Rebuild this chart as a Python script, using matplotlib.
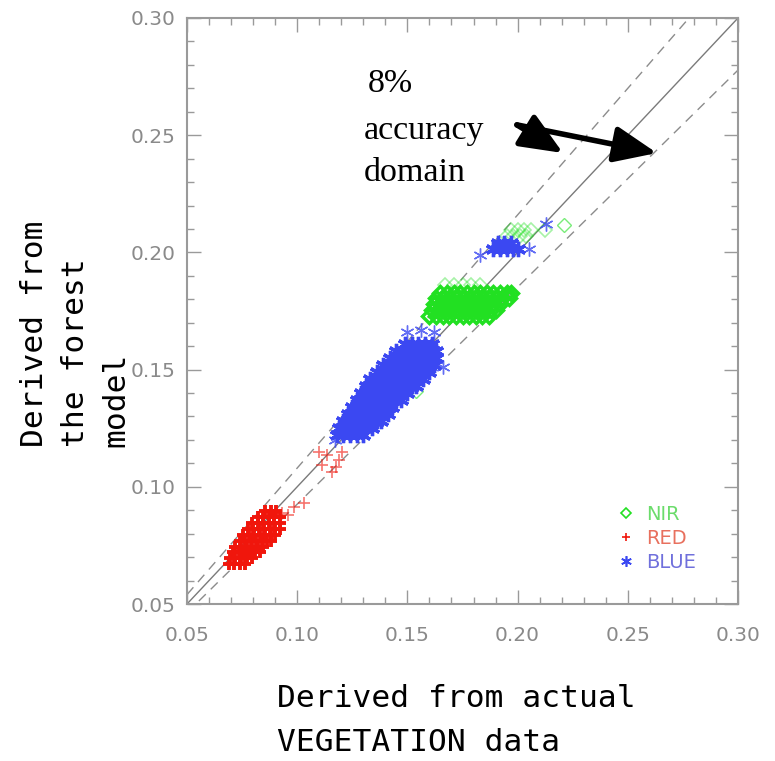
import matplotlib

matplotlib.use("Agg")

import matplotlib.pyplot as plt
import numpy as np
from matplotlib.ticker import FormatStrFormatter, MultipleLocator


W_PX, H_PX = 775, 761
AX_LEFT_PX, AX_RIGHT_PX = 187, 738
AX_TOP_PX, AX_BOTTOM_PX = 18, 604

AXIS_RANGE = (0.05, 0.30)
ACCURACY = 0.08

NIR_COLOR = "#22e022"
RED_COLOR = "#f0160c"
BLUE_COLOR = "#3b48f2"
FRAME_GREY = "#9a9a9a"

# NIR (open diamonds) - dense block, one list of x per row
NIR_ROW_Y = [0.173, 0.1755, 0.178, 0.1805, 0.1825]
NIR_ROW_X = [
    [0.160, 0.163, 0.166, 0.169, 0.172, 0.175, 0.178, 0.181, 0.184, 0.187],
    [0.161, 0.164, 0.167, 0.170, 0.173, 0.176, 0.179, 0.182, 0.185, 0.188, 0.190],
    [0.162, 0.165, 0.168, 0.171, 0.174, 0.177, 0.180, 0.183, 0.186, 0.189, 0.192],
    [0.163, 0.166, 0.169, 0.172, 0.175, 0.178, 0.181, 0.184, 0.187, 0.190, 0.193, 0.196],
    [0.165, 0.168, 0.171, 0.174, 0.177, 0.180, 0.183, 0.186, 0.189, 0.192, 0.195, 0.197],
]
# sparse / faint NIR points
NIR_FAINT_X = [0.167, 0.171, 0.175, 0.179, 0.183,
               0.195, 0.198, 0.201, 0.204, 0.197, 0.200, 0.203, 0.206, 0.2126]
NIR_FAINT_Y = [0.186, 0.186, 0.186, 0.186, 0.186,
               0.207, 0.207, 0.207, 0.207, 0.2095, 0.2095, 0.2095, 0.2095, 0.2096]
NIR_SINGLE_X = [0.221, 0.154]
NIR_SINGLE_Y = [0.2117, 0.141]

# RED (plus signs)
RED_ROW_Y = [0.067, 0.0695, 0.072, 0.0745, 0.077, 0.0795, 0.082, 0.0845, 0.087, 0.0895]
RED_ROW_X = [
    [0.069, 0.0715, 0.074, 0.0765],
    [0.0695, 0.072, 0.0745, 0.077, 0.0795],
    [0.071, 0.0735, 0.076, 0.0785, 0.081, 0.083],
    [0.072, 0.0745, 0.077, 0.0795, 0.082, 0.0845],
    [0.074, 0.0765, 0.079, 0.0815, 0.084, 0.0865, 0.088],
    [0.0755, 0.078, 0.0805, 0.083, 0.0855, 0.088, 0.090],
    [0.0775, 0.080, 0.0825, 0.085, 0.0875, 0.090, 0.092],
    [0.0795, 0.082, 0.0845, 0.087, 0.0895, 0.092],
    [0.082, 0.0845, 0.087, 0.0895, 0.092],
    [0.0855, 0.088, 0.0905],
]
RED_SPARSE_X = [0.093, 0.0985, 0.103, 0.096, 0.1098, 0.1134, 0.1202, 0.1111, 0.1175, 0.1188, 0.1157]
RED_SPARSE_Y = [0.089, 0.0914, 0.0931, 0.088, 0.1148, 0.1136, 0.1148, 0.1093, 0.1084, 0.1114, 0.1063]

# BLUE (asterisks)
BLUE_ROW_Y = [0.122, 0.125, 0.128, 0.131, 0.134, 0.137, 0.140, 0.143, 0.146, 0.149,
              0.152, 0.155, 0.158, 0.161, 0.2015, 0.204]
BLUE_ROW_X = [
    [0.118, 0.121, 0.124, 0.127, 0.130],
    [0.119, 0.122, 0.125, 0.128, 0.131, 0.134],
    [0.121, 0.124, 0.127, 0.130, 0.133, 0.136, 0.138],
    [0.123, 0.126, 0.129, 0.132, 0.135, 0.138, 0.141],
    [0.125, 0.128, 0.131, 0.134, 0.137, 0.140, 0.143],
    [0.127, 0.130, 0.133, 0.136, 0.139, 0.142, 0.145, 0.147],
    [0.129, 0.132, 0.135, 0.138, 0.141, 0.144, 0.147, 0.150],
    [0.131, 0.134, 0.137, 0.140, 0.143, 0.146, 0.149, 0.152, 0.154],
    [0.133, 0.136, 0.139, 0.142, 0.145, 0.148, 0.151, 0.154, 0.157],
    [0.136, 0.139, 0.142, 0.145, 0.148, 0.151, 0.154, 0.157, 0.160],
    [0.139, 0.142, 0.145, 0.148, 0.151, 0.154, 0.157, 0.160, 0.162],
    [0.142, 0.145, 0.148, 0.151, 0.154, 0.157, 0.160, 0.163],
    [0.145, 0.148, 0.151, 0.154, 0.157, 0.160, 0.163],
    [0.149, 0.152, 0.155, 0.158, 0.161],
    [0.189, 0.192, 0.195, 0.198, 0.200],
    [0.191, 0.194, 0.197],
]
BLUE_SPARSE_X = [0.117, 0.150, 0.156, 0.162, 0.166, 0.183, 0.205, 0.213]
BLUE_SPARSE_Y = [0.120, 0.166, 0.167, 0.166, 0.151, 0.199, 0.2015, 0.212]

LEGEND_LABELS = ["NIR", "RED", "BLUE"]


def rows_to_xy(row_y, row_x):
    xs = [x for row in row_x for x in row]
    ys = [y for y, row in zip(row_y, row_x) for _ in row]
    return np.array(xs), np.array(ys)


def fig_xy(px, py):
    return px / W_PX, 1 - py / H_PX


def main() -> None:
    fig = plt.figure(figsize=(W_PX / 100, H_PX / 100), dpi=100)
    ax = fig.add_axes([
        AX_LEFT_PX / W_PX,
        1 - AX_BOTTOM_PX / H_PX,
        (AX_RIGHT_PX - AX_LEFT_PX) / W_PX,
        (AX_BOTTOM_PX - AX_TOP_PX) / H_PX,
    ])

    lo, hi = AXIS_RANGE
    diag = np.array([lo, hi])
    ax.plot(diag, diag, color="#7a7a7a", lw=1.0, zorder=1)
    ax.plot(diag, diag * (1 + ACCURACY), color="#8c8c8c", lw=1.0, dashes=(7, 5), zorder=1)
    ax.plot(diag, diag / (1 + ACCURACY), color="#8c8c8c", lw=1.0, dashes=(7, 5), zorder=1)

    # NIR
    nx, ny = rows_to_xy(NIR_ROW_Y, NIR_ROW_X)
    nir, = ax.plot(nx, ny, ls="none", marker="D", ms=7, mfc="none", mec=NIR_COLOR, mew=2.5, zorder=2)
    ax.plot(NIR_FAINT_X, NIR_FAINT_Y, ls="none", marker="D", ms=7, mfc="none",
            mec=NIR_COLOR, mew=1.2, alpha=0.4, zorder=2)
    ax.plot(NIR_SINGLE_X, NIR_SINGLE_Y, ls="none", marker="D", ms=7, mfc="none",
            mec=NIR_COLOR, mew=1.0, alpha=0.6, zorder=2)

    # RED
    rx, ry = rows_to_xy(RED_ROW_Y, RED_ROW_X)
    red, = ax.plot(rx, ry, ls="none", marker="+", ms=9, mec=RED_COLOR, mew=2.8, zorder=3)
    ax.plot(RED_SPARSE_X, RED_SPARSE_Y, ls="none", marker="+", ms=9, mec=RED_COLOR,
            mew=1.2, alpha=0.6, zorder=3)

    # BLUE
    bx, by = rows_to_xy(BLUE_ROW_Y, BLUE_ROW_X)
    blue, = ax.plot(bx, by, ls="none", marker=(6, 2, 0), ms=11, mec=BLUE_COLOR, mew=2.4, zorder=4)
    ax.plot(BLUE_SPARSE_X, BLUE_SPARSE_Y, ls="none", marker=(6, 2, 0), ms=10, mec=BLUE_COLOR,
            mew=1.0, alpha=0.8, zorder=4)

    ax.set_xlim(lo, hi)
    ax.set_ylim(lo, hi)
    for axis in (ax.xaxis, ax.yaxis):
        axis.set_major_locator(MultipleLocator(0.05))
        axis.set_minor_locator(MultipleLocator(0.01))
        axis.set_major_formatter(FormatStrFormatter("%.2f"))
    ax.tick_params(which="both", direction="in", top=True, right=True, color=FRAME_GREY,
                   width=1.0, labelcolor="#8a8a8a", labelsize=14.5)
    ax.tick_params(which="major", length=10)
    ax.tick_params(which="minor", length=5)
    ax.tick_params(axis="x", pad=16)
    ax.tick_params(axis="y", pad=8)
    for spine in ax.spines.values():
        spine.set_color(FRAME_GREY)
        spine.set_linewidth(1.5)

    leg = ax.legend(
        [nir, red, blue],
        LEGEND_LABELS,
        loc="lower right",
        bbox_to_anchor=(0.955, 0.025),
        frameon=False,
        fontsize=14,
        markerscale=0.7,
        handlelength=1.0,
        handletextpad=0.5,
        labelspacing=0.25,
        labelcolor=["#6cdc6c", "#e8705e", "#7070dc"],
    )
    for h in leg.legend_handles:
        h.set_markeredgewidth(1.2)

    # accuracy annotation
    serif = dict(family="Liberation Serif", fontsize=24.5, color="black", va="baseline", ha="left")
    fig.text(*fig_xy(368, 92), "8%", **serif)
    fig.text(*fig_xy(364, 139), "accuracy", **serif)
    fig.text(*fig_xy(364, 181), "domain", **serif)

    arrow_tail = (0.1997, 0.2544)
    for tip in [(0.2206, 0.2424), (0.2632, 0.2424)]:
        ax.annotate(
            "",
            xy=tip,
            xytext=arrow_tail,
            arrowprops=dict(arrowstyle="-|>,head_length=1.3,head_width=0.55", lw=4,
                            color="black", mutation_scale=20, shrinkA=0, shrinkB=0),
            annotation_clip=False,
            zorder=6,
        )

    label_font = dict(family="DejaVu Sans Mono", fontsize=22.5, color="black")
    fig.text(*fig_xy(277, 684), "Derived from actual\nVEGETATION data", ha="left", va="top",
             multialignment="left", linespacing=1.65, **label_font)
    fig.text(*fig_xy(20, 447), "Derived from\nthe forest\nmodel", rotation=90, ha="left",
             va="bottom", multialignment="left", linespacing=1.5, **label_font)

    fig.savefig("out.png", dpi=100)
    plt.close(fig)


if __name__ == "__main__":
    main()
